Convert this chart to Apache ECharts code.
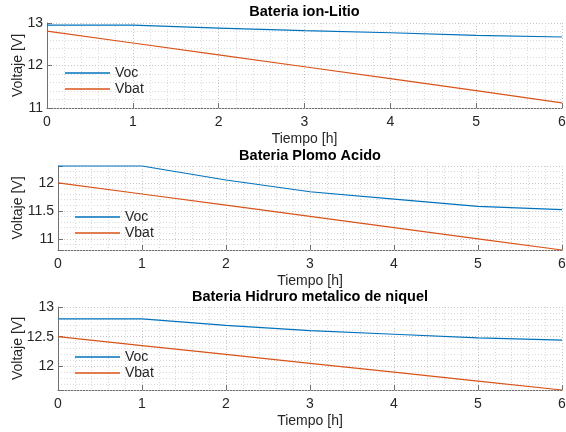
<!DOCTYPE html>
<html>
<head>
<meta charset="utf-8">
<script src="https://cdn.jsdelivr.net/npm/echarts@6/dist/echarts.min.js"></script>
<style>
  html, body { margin: 0; padding: 0; background: #ffffff; }
  #chart { width: 566px; height: 432px; }
</style>
</head>
<body>
<div id="chart"></div>
<script>
// Discharge curves of three battery types (hours vs. volts)
const hours = [0, 1, 2, 3, 4, 5, 6];

const litioVoc  = [12.95, 12.95, 12.88, 12.82, 12.77, 12.71, 12.67];
const litioVbat = [12.81, 12.53, 12.25, 11.97, 11.69, 11.41, 11.12];

const plomoVoc  = [12.30, 12.30, 12.05, 11.84, 11.71, 11.58, 11.52];
const plomoVbat = [12.00, 11.80, 11.60, 11.40, 11.20, 11.00, 10.80];

const niquelVoc  = [12.80, 12.80, 12.69, 12.60, 12.54, 12.48, 12.44];
const niquelVbat = [12.50, 12.35, 12.20, 12.05, 11.90, 11.75, 11.60];

const titles = ['Bateria ion-Litio', 'Bateria Plomo Acido', 'Bateria Hidruro metalico de niquel'];
const seriesNames = ['Voc', 'Vbat'];
const xLabel = 'Tiempo [h]';
const yLabel = 'Voltaje [V]';

const xRange = [0, 6];
const yRanges = [[11, 13], [10.8, 12.3], [11.6, 13]];
const yMajorSteps = [1, 0.5, 0.5];
const yMinorSteps = [0.2, 0.1, 0.1];

const panelData = [
  [litioVoc, litioVbat],
  [plomoVoc, plomoVbat],
  [niquelVoc, niquelVbat]
];

// ---- styling / layout ----
const FONT = '"Liberation Sans", Arial, Helvetica, sans-serif';
const TEXT = '#262626';
const AXIS = '#707070';
const MAJOR_GRID = '#c6c6c6';
const MINOR_GRID = '#dadada';
const COLORS = ['#0072BD', '#D95319'];

const layout = [
  { left: 47, top: 23,  width: 515, height: 85, legendLeft: 65, legendTop: 66,  titleY: 12,  yNameGap: 22 },
  { left: 58, top: 166, width: 504, height: 84, legendLeft: 75, legendTop: 210, titleY: 156, yNameGap: 33 },
  { left: 58, top: 307, width: 504, height: 83, legendLeft: 75, legendTop: 350, titleY: 297, yNameGap: 33 }
];

function isMultiple(v, step) {
  const r = v / step;
  return Math.abs(r - Math.round(r)) < 1e-6;
}

const grids = [], xAxes = [], yAxes = [], series = [], legends = [], graphics = [];

layout.forEach((L, i) => {
  grids.push({
    left: L.left, top: L.top, width: L.width, height: L.height,
    containLabel: false, outerBoundsMode: 'none'
  });

  xAxes.push({
    type: 'value', gridIndex: i, min: xRange[0], max: xRange[1], interval: 1,
    axisLine: { show: true, onZero: false, lineStyle: { color: AXIS, width: 1 } },
    axisTick: { show: true, inside: true, length: 5, lineStyle: { color: AXIS } },
    axisLabel: { margin: 7, fontSize: 14, color: TEXT, fontFamily: FONT, hideOverlap: false },
    splitLine: { show: true, lineStyle: { color: MAJOR_GRID, type: [1, 2], width: 1 } },
    minorTick: { show: false, splitNumber: 5 },
    minorSplitLine: { show: true, lineStyle: { color: MINOR_GRID, type: [1, 2], width: 1 } },
    name: xLabel, nameLocation: 'middle', nameGap: 24, nameMoveOverlap: false,
    nameTextStyle: { fontSize: 14, color: TEXT, fontFamily: FONT }
  });

  const [ymin, ymax] = yRanges[i];
  const major = yMajorSteps[i];
  const majorAxis = {
    type: 'value', gridIndex: i, position: 'left', min: ymin, max: ymax,
    axisLine: { show: true, lineStyle: { color: AXIS, width: 1 } },
    axisTick: { show: true, inside: true, length: 5, lineStyle: { color: AXIS } },
    axisLabel: {
      margin: 4, fontSize: 14, color: TEXT, fontFamily: FONT,
      formatter: v => (isMultiple(v, major) ? String(+v.toFixed(2)) : '')
    },
    splitLine: { show: true, lineStyle: { color: MAJOR_GRID, type: [1, 2], width: 1 } },
    name: yLabel, nameLocation: 'middle', nameGap: L.yNameGap, nameMoveOverlap: false,
    nameTextStyle: { fontSize: 14, color: TEXT, fontFamily: FONT },
    z: 3
  };
  if (isMultiple(ymin, major)) majorAxis.interval = major;
  else majorAxis.splitNumber = Math.round((ymax - ymin) / major);
  yAxes.push(majorAxis);

  // fine axis carrying the dotted minor grid
  yAxes.push({
    type: 'value', gridIndex: i, position: 'left', min: ymin, max: ymax, interval: yMinorSteps[i],
    axisLine: { show: false }, axisTick: { show: false }, axisLabel: { show: false },
    splitLine: { show: true, lineStyle: { color: MINOR_GRID, type: [1, 2], width: 1 } },
    z: 1
  });

  panelData[i].forEach((vals, k) => {
    series.push({
      type: 'line', name: seriesNames[k],
      xAxisIndex: i, yAxisIndex: 2 * i,
      data: hours.map((h, j) => [h, vals[j]]),
      symbol: 'none', showSymbol: false, clip: false,
      lineStyle: { color: COLORS[k], width: 1.2 },
      itemStyle: { color: COLORS[k] },
      emphasis: { disabled: true },
      animation: false, z: 5
    });
  });

  legends.push({
    left: L.legendLeft, top: L.legendTop, orient: 'vertical',
    icon: 'rect', itemWidth: 45, itemHeight: 1.5, itemGap: 2, padding: 0,
    data: seriesNames, selectedMode: false,
    textStyle: { fontSize: 14, color: TEXT, fontFamily: FONT }
  });

  graphics.push({
    type: 'text', x: L.left + L.width / 2, y: L.titleY,
    style: {
      text: titles[i], fill: '#000000',
      font: 'bold 14.5px ' + FONT,
      textAlign: 'center', textVerticalAlign: 'middle',
      align: 'center', verticalAlign: 'middle'
    }
  });
});

const chart = echarts.init(document.getElementById('chart'), null, { renderer: 'canvas' });
chart.setOption({
  backgroundColor: '#ffffff',
  animation: false,
  grid: grids,
  xAxis: xAxes,
  yAxis: yAxes,
  legend: legends,
  series: series,
  graphic: graphics
});
</script>
</body>
</html>
